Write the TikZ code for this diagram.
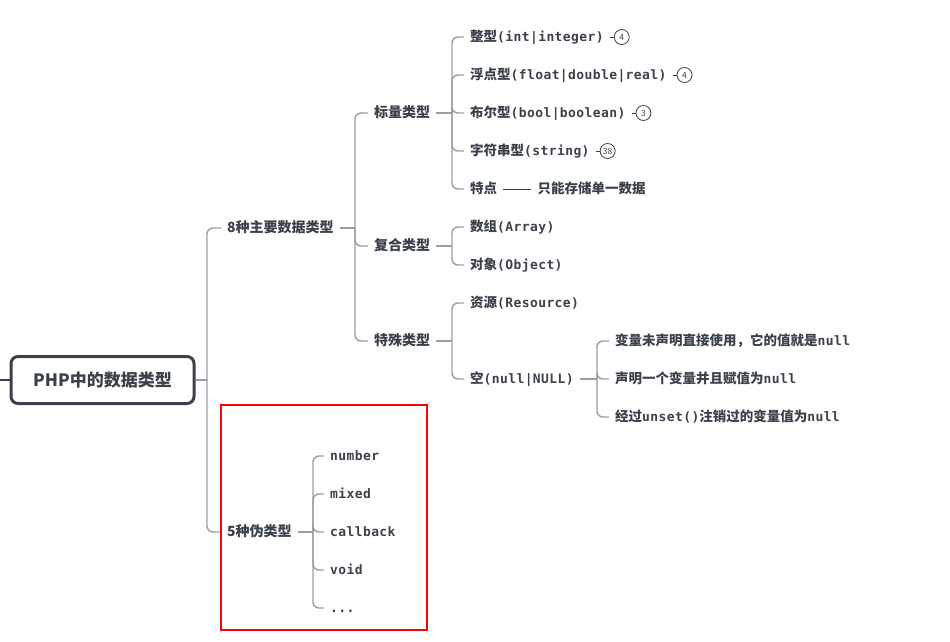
\documentclass[tikz,border=0pt]{standalone}
\usepackage{fontspec}
\setmainfont{Noto Sans CJK SC}
\newfontfamily\codefont{DejaVu Sans Mono Bold}[LetterSpace=3]
\newcommand\cd[1]{{\codefont\fontsize{13}{14}\selectfont #1}}
\definecolor{txt}{HTML}{3B414A}
\definecolor{ln}{HTML}{9A9EA4}
\begin{document}
\begin{tikzpicture}[x=1pt,y=-1pt,
  every node/.style={text=txt},
  rootbox/.style={draw=txt, line width=3pt, rounded corners=7pt, minimum width=183pt, minimum height=47pt, font=\fontsize{17}{20}\selectfont\bfseries},
  lvl/.style={anchor=west, inner xsep=6pt, inner ysep=2pt, text height=11.5pt, text depth=2pt, font=\fontsize{14}{16}\selectfont\bfseries},
  leaf/.style={anchor=west, inner xsep=6pt, inner ysep=2pt, text height=11pt, text depth=2pt, font=\fontsize{13.5}{15}\selectfont\bfseries},
  conn/.style={draw=ln, line width=1.4pt, rounded corners=6pt},
  badge/.style={circle, draw=txt, line width=0.8pt, inner sep=0pt, minimum size=15pt, font=\fontsize{8.5}{9}\selectfont, anchor=west},
  blink/.style={draw=txt, line width=0.8pt}
]
\useasboundingbox (0,0) rectangle (950,642);

% root
\node[rootbox] (root) at (102.5,380) {PHP中的数据类型};
\coordinate (lft) at (0,380);
\draw[draw=txt, line width=2pt] (lft) -- (root.west);

% level 1
\node[lvl] (main) at (221,228) {8种主要数据类型};
\node[lvl] (pseudo) at (221,532) {5种伪类型};
\coordinate (t0) at (207,380);
\draw[conn] (root.east) -- (t0);
\draw[conn] (t0) |- (main.west);
\draw[conn] (t0) |- (pseudo.west);

% level 2
\node[lvl] (scalar) at (368,113) {标量类型};
\node[lvl] (compound) at (368,246) {复合类型};
\node[lvl] (special) at (368,341) {特殊类型};
\coordinate (t1) at (355,228);
\draw[conn] (main.east) -- (t1);
\draw[conn] (t1) |- (scalar.west);
\draw[conn] (t1) |- (compound.west);
\draw[conn] (t1) |- (special.west);

% scalar children
\node[leaf] (int) at (464,37) {整型\cd{(int|integer)}};
\node[leaf] (float) at (464,75) {浮点型\cd{(float|double|real)}};
\node[leaf] (bool) at (464,113) {布尔型\cd{(bool|boolean)}};
\node[leaf] (str) at (464,151) {字符串型\cd{(string)}};
\node[leaf] (feat) at (464,189) {特点};
\coordinate (t2) at (452,113);
\draw[conn] (scalar.east) -- (t2);
\foreach \n in {int,float,bool,str,feat} \draw[conn] (t2) |- (\n.west);

\node[badge] (b1) at ([xshift=4pt]int.east) {4};
\node[badge] (b2) at ([xshift=4pt]float.east) {4};
\node[badge] (b3) at ([xshift=4pt]bool.east) {3};
\node[badge] (b4) at ([xshift=4pt]str.east) {38};
\draw[blink] (int.east) -- (b1.west);
\draw[blink] (float.east) -- (b2.west);
\draw[blink] (bool.east) -- (b3.west);
\draw[blink] (str.east) -- (b4.west);

\node[leaf] (single) at ([xshift=28pt]feat.east) {只能存储单一数据};
\draw[draw=txt, line width=1pt] (feat.east) -- (single.west);

% compound children
\node[leaf] (arr) at (464,227) {数组\cd{(Array)}};
\node[leaf] (obj) at (464,265) {对象\cd{(Object)}};
\coordinate (t3) at (452,246);
\draw[conn] (compound.east) -- (t3);
\draw[conn] (t3) |- (arr.west);
\draw[conn] (t3) |- (obj.west);

% special children
\node[leaf] (res) at (464,303) {资源\cd{(Resource)}};
\node[leaf] (null) at (464,379) {空\cd{(null|NULL)}};
\coordinate (t4) at (452,341);
\draw[conn] (special.east) -- (t4);
\draw[conn] (t4) |- (res.west);
\draw[conn] (t4) |- (null.west);

% null children
\node[leaf] (n1) at (609,341) {变量未声明直接使用，它的值就是\cd{null}};
\node[leaf] (n2) at (609,379) {声明一个变量并且赋值为\cd{null}};
\node[leaf] (n3) at (609,417) {经过\cd{unset()}注销过的变量值为\cd{null}};
\coordinate (t5) at (597,379);
\draw[conn] (null.east) -- (t5);
\draw[conn] (t5) |- (n1.west);
\draw[conn] (t5) |- (n2.west);
\draw[conn] (t5) |- (n3.west);

% pseudo children
\node[leaf] (num) at (324,456) {\cd{number}};
\node[leaf] (mix) at (324,494) {\cd{mixed}};
\node[leaf] (cb) at (324,532) {\cd{callback}};
\node[leaf] (vd) at (324,570) {\cd{void}};
\node[leaf] (dots) at (324,608) {\cd{...}};
\coordinate (t6) at (313,532);
\draw[conn] (pseudo.east) -- (t6);
\foreach \n in {num,mix,cb,vd,dots} \draw[conn] (t6) |- (\n.west);

% red highlight
\draw[red, line width=1.6pt] (221,405) rectangle (427,630);
\end{tikzpicture}
\end{document}
